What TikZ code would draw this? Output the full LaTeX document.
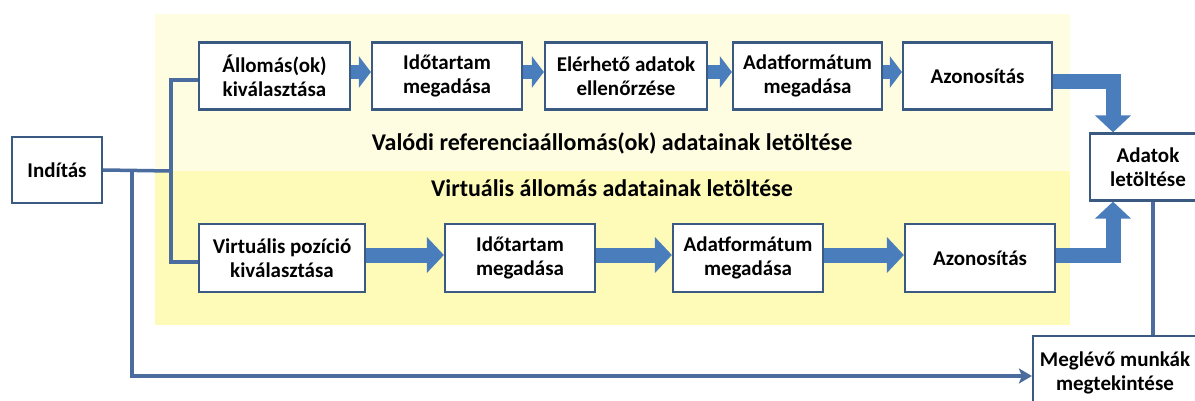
\documentclass[tikz,border=0pt]{standalone}
\usepackage{fontspec}
\setmainfont{Carlito}
\usetikzlibrary{arrows.meta}
\definecolor{boxc}{HTML}{3B5A82}
\definecolor{linec}{HTML}{4A6C9E}
\definecolor{arrowc}{HTML}{4A7DBB}
\definecolor{yelup}{HTML}{FEFDE2}
\definecolor{yeldn}{HTML}{FEFAB8}
\begin{document}
\begin{tikzpicture}[x=1pt,y=-1pt,
  every node/.style={font=\fontsize{21pt}{24.5pt}\selectfont\bfseries},
  box/.style={draw=boxc, line width=2.2pt, fill=white, align=center, inner sep=0pt, minimum height=67pt},
  conn/.style={draw=linec, line width=3.5pt},
  smallA/.style={draw=arrowc, line width=14pt, -{Triangle[length=12pt,width=31pt]}},
  bigA/.style={draw=arrowc, line width=15pt, line join=miter, -{Triangle[length=17pt,width=35pt]}},
  title/.style={text=black, font=\fontsize{24pt}{28pt}\selectfont\bfseries}]
\clip (0,0) rectangle (1195,401);
\fill[white] (0,0) rectangle (1195,401);
% panel
\fill[yelup] (155,14) rectangle (1070,171);
\fill[yeldn] (155,171) rectangle (1070,325);
\node[title] (tup) at (612,143) {Valódi referenciaállomás(ok) adatainak letöltése};
\node[title] (tdn) at (612,188) {Virtuális állomás adatainak letöltése};
% nodes
\node[box, minimum width=90pt, minimum height=66pt] (ind) at (57,170) {Indítás};
\node[box, minimum width=151pt] (t1) at (274.5,76) {Állomás(ok)\\kiválasztása};
\node[box, minimum width=150pt] (t2) at (447,76) {Időtartam\\megadása};
\node[box, minimum width=162pt] (t3) at (626,76) {Elérhető adatok\\ellenőrzése};
\node[box, minimum width=149pt] (t4) at (807.5,76) {Adatformátum\\megadása};
\node[box, minimum width=149pt] (t5) at (977.5,76) {Azonosítás};
\node[box, minimum width=166pt, minimum height=68pt] (b1) at (282,258) {Virtuális pozíció\\kiválasztása};
\node[box, minimum width=150pt, minimum height=68pt] (b2) at (520,258) {Időtartam\\megadása};
\node[box, minimum width=150pt, minimum height=68pt] (b3) at (748,258) {Adatformátum\\megadása};
\node[box, minimum width=150pt, minimum height=68pt] (b4) at (980,258) {Azonosítás};
\node[box, minimum width=116pt] (ad) at (1148,167) {Adatok\\letöltése};
\node[box, minimum width=164pt, minimum height=74pt] (mg) at (1115,373) {Meglévő munkák\\megtekintése};
% junctions
\coordinate (j1) at (171,171);
\coordinate (j0) at (132,171);
% thin connectors
\draw[conn] (ind.east) -- (j1);
\draw[conn] ([yshift=-4pt]t1.west) -| (j1) |- ([yshift=-4pt]b1.west);
\draw[conn, -{Stealth[length=13pt,width=15pt,inset=3pt]}] (j0) |- ([yshift=-3pt]mg.west);
\draw[conn] ([xshift=5pt]ad.south) -- ([xshift=5pt]ad.south |- mg.north);
% block arrows top row
\draw[smallA] ([yshift=4pt]t1.east) -- ([yshift=4pt]t2.west);
\draw[smallA] ([yshift=4pt]t2.east) -- ([yshift=4pt]t3.west);
\draw[smallA] ([yshift=4pt]t3.east) -- ([yshift=4pt]t4.west);
\draw[smallA] ([yshift=4pt]t4.east) -- ([yshift=4pt]t5.west);
% block arrows bottom row
\draw[bigA] ([yshift=3pt]b1.east) -- ([yshift=3pt]b2.west);
\draw[bigA] ([yshift=3pt]b2.east) -- ([yshift=3pt]b3.west);
\draw[bigA] ([yshift=3pt]b3.east) -- ([yshift=3pt]b4.west);
% bent arrows into Adatok letöltése
\draw[bigA] ([yshift=-6pt]t5.east) -| ([xshift=-35pt]ad.north);
\draw[bigA] ([yshift=3pt]b4.east) -| ([xshift=-35pt]ad.south);
\end{tikzpicture}
\end{document}
